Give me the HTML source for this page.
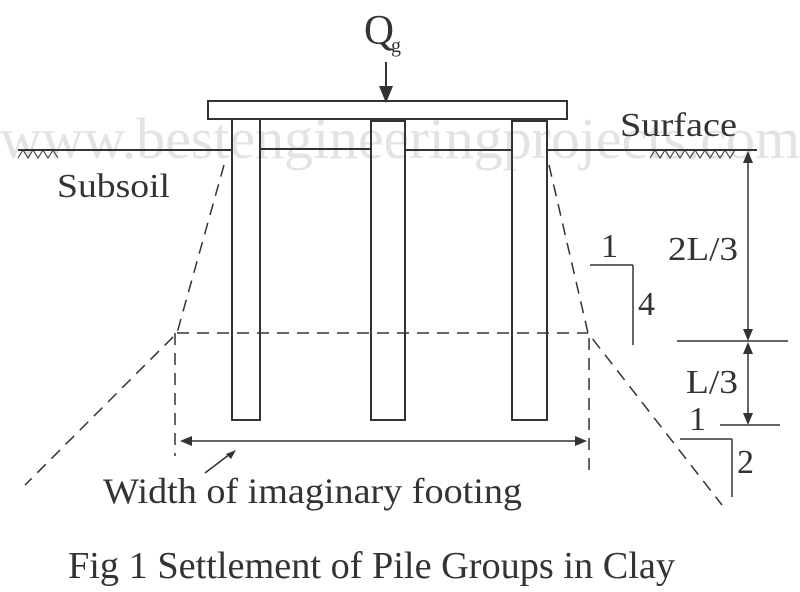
<!DOCTYPE html>
<html><head><style>body{margin:0;background:#fff}svg{display:block}</style></head><body>
<svg width="800" height="592" viewBox="0 0 800 592" xmlns="http://www.w3.org/2000/svg" font-family="Liberation Serif, serif" fill="#333">
<text x="0" y="158" font-size="58" fill="#e3e3e3" textLength="800" lengthAdjust="spacingAndGlyphs">www.bestengineeringprojects.com</text>
<g stroke="#333" stroke-width="2" fill="none">
<rect x="208" y="101" width="359" height="18"/>
<rect x="232" y="119" width="28" height="301"/>
<rect x="371" y="121" width="34" height="299"/>
<rect x="512" y="121" width="35" height="299"/>
<line x1="386" y1="62" x2="386" y2="88"/>
<path d="M18 150H232M260 149H371M405 150H512M547 150H757"/>
<path d="M18 158l5-8 5 8 5-8 5 8 5-8 5 8 5-8 5 8M650 158l5-8 5 8 5-8 5 8 5-8 5 8 5-8 5 8 5-8 5 8 5-8 5 8 5-8 5 8 5-8 5 8 5-8" stroke-width="1"/>
</g>
<polygon points="379,86 393,86 386,103" fill="#333"/>
<g stroke="#333" stroke-width="1.5" fill="none" stroke-dasharray="12,8">
<path d="M224 165L177 333L25 485"/>
<path d="M549 165L588 333L722 505"/>
<path d="M177 333H588"/>
<path d="M175 333V456M589 338V474"/>
</g>
<g stroke="#333" stroke-width="1.5" fill="none">
<line x1="186" y1="441" x2="580" y2="441"/>
<line x1="205" y1="473" x2="230" y2="454"/>
<line x1="748" y1="160" x2="748" y2="335"/>
<line x1="677" y1="341" x2="788" y2="341"/>
<line x1="748" y1="348" x2="748" y2="418"/>
<line x1="720" y1="425" x2="780" y2="425"/>
<line x1="590" y1="265" x2="633" y2="265"/>
<line x1="633" y1="265" x2="633" y2="345"/>
<line x1="680" y1="439" x2="732" y2="439"/>
<line x1="732" y1="439" x2="732" y2="497"/>
</g>
<g fill="#333">
<polygon points="180,441 192,436 192,446"/>
<polygon points="587,441 575,436 575,446"/>
<polygon points="236,450 226,454 231,459"/>
<polygon points="748,151 743,163 753,163"/>
<polygon points="748,341 743,329 753,329"/>
<polygon points="748,342 743,354 753,354"/>
<polygon points="748,425 743,413 753,413"/>
</g>
<text x="364" y="44" font-size="42" textLength="30" lengthAdjust="spacingAndGlyphs">Q</text><text x="391" y="52" font-size="20">g</text>
<text x="620" y="136" font-size="34" textLength="117" lengthAdjust="spacingAndGlyphs">Surface</text>
<text x="57" y="197" font-size="34" textLength="113" lengthAdjust="spacingAndGlyphs">Subsoil</text>
<text x="668" y="260" font-size="34" textLength="70" lengthAdjust="spacingAndGlyphs">2L/3</text>
<text x="686" y="393" font-size="34" textLength="52" lengthAdjust="spacingAndGlyphs">L/3</text>
<text x="601" y="257" font-size="34">1</text>
<text x="638" y="315" font-size="34">4</text>
<text x="689" y="430" font-size="34">1</text>
<text x="737" y="473" font-size="34">2</text>
<text x="103" y="503" font-size="36" textLength="419" lengthAdjust="spacingAndGlyphs">Width of imaginary footing</text>
<text x="68" y="578" font-size="38" textLength="607" lengthAdjust="spacingAndGlyphs">Fig 1 Settlement of Pile Groups in Clay</text>
</svg>
</body></html>
